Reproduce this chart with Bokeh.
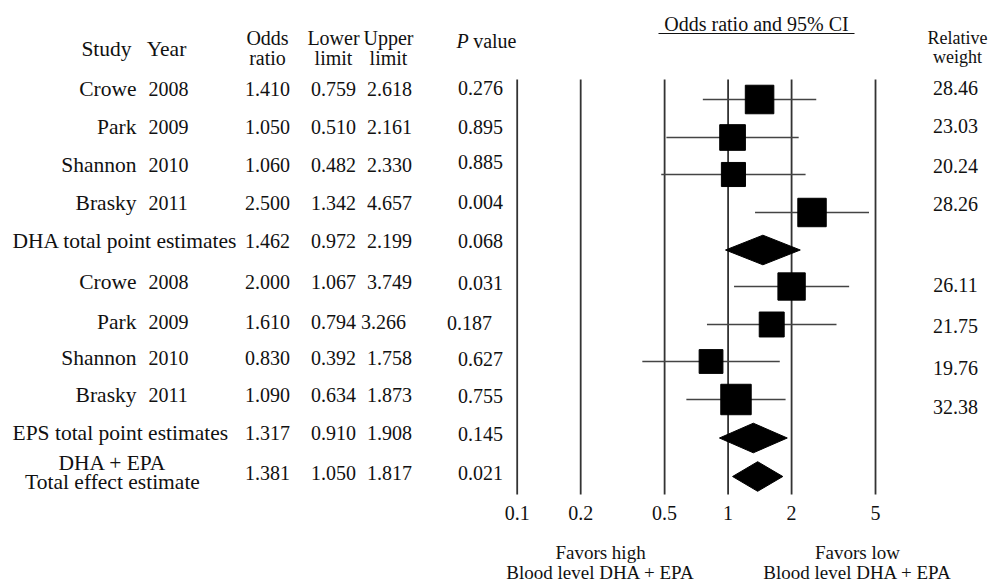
from bokeh.plotting import figure
from bokeh.models import Range1d, LogScale, ColumnDataSource
from bokeh.embed import file_html
from bokeh.resources import INLINE
from bokeh.core.properties import value
import math

# ---------------- data ----------------
studies = ["Crowe", "Park", "Shannon", "Brasky", "DHA total point estimates",
           "Crowe", "Park", "Shannon", "Brasky", "EPS total point estimates",
           "DHA + EPA\nTotal effect estimate"]
years = ["2008", "2009", "2010", "2011", "", "2008", "2009", "2010", "2011", "", ""]
odds = [1.410, 1.050, 1.060, 2.500, 1.462, 2.000, 1.610, 0.830, 1.090, 1.317, 1.381]
lower = [0.759, 0.510, 0.482, 1.342, 0.972, 1.067, 0.794, 0.392, 0.634, 0.910, 1.050]
upper = [2.618, 2.161, 2.330, 4.657, 2.199, 3.749, 3.266, 1.758, 1.873, 1.908, 1.817]
pvals = ["0.276", "0.895", "0.885", "0.004", "0.068", "0.031", "0.187", "0.627", "0.755", "0.145", "0.021"]
weights = [28.46, 23.03, 20.24, 28.26, None, 26.11, 21.75, 19.76, 32.38, None, None]
summary_rows = [4, 9, 10]
ticks = [0.1, 0.2, 0.5, 1, 2, 5]
tick_labels = ["0.1", "0.2", "0.5", "1", "2", "5"]

# ---------------- layout (page pixels) ----------------
W, H = 993, 584
mark_y = [99, 137, 174, 212, 249.5, 286, 324, 361, 399, 437.5, 476]
text_y = [88, 126, 164, 202, 240, 281, 321, 357, 394, 432, 472]
p_y = [87, 126, 161, 201, 240, 282, 322, 358, 395, 433, 472]
w_y = [87, 125, 165, 203, None, 284, 325, 367, 406, None, None]
p_x = [480, 480, 480, 480, 480, 480, 469, 480, 480, 480, 480]
up_x = [389, 389, 389, 389, 389, 389, 383, 389, 389, 389, 389]

PX_PER_DEC = 210.9
X01 = 516.7
lo = -1 - X01 / PX_PER_DEC
hi = -1 + (W - X01) / PX_PER_DEC

p = figure(width=W, height=H, x_range=Range1d(0, W), y_range=Range1d(H, 0),
           output_backend="svg", toolbar_location=None, min_border=0,
           x_axis_location=None, y_axis_location=None)
p.grid.visible = False
p.outline_line_color = None
p.background_fill_color = "white"
p.border_fill_color = "white"
p.extra_x_ranges = {"log": Range1d(10 ** lo, 10 ** hi)}
p.extra_x_scales = {"log": LogScale()}

FONT = value("Liberation Serif")
FS = "20px"
FS_NAME = "21.5px"
TC = "#111111"


def txt(xs, ys, ts, align="center", style="normal", xr="default", size=FS):
    p.text(x=xs, y=ys, text=ts, text_font=FONT, text_font_size=size,
           text_align=align, text_baseline="middle", text_color=TC,
           text_font_style=style, x_range_name=xr)


# ---------------- headers ----------------
txt([106], [48], ["Study"], size=FS_NAME)
txt([166], [48], ["Year"], size=FS_NAME)
txt([267, 333, 388], [37, 37, 37], ["Odds", "Lower", "Upper"])
txt([267, 333, 388], [57, 57, 57], ["ratio", "limit", "limit"])
txt([456], [40], ["P"], align="left", style="italic")
txt([516], [40], ["value"], align="right")
txt([756], [23], ["Odds ratio and 95% CI"])
p.segment(x0=[658], y0=[33], x1=[854], y1=[33], line_color=TC, line_width=1.2)
txt([957, 957], [37, 56], ["Relative", "weight"], size="18px")

# ---------------- table columns ----------------
for i, s in enumerate(studies):
    if i in summary_rows:
        lines = s.split("\n")
        if len(lines) == 1:
            txt([12], [text_y[i]], [s], align="left", size=FS_NAME)
        else:
            txt([112] * len(lines), [462, 481], lines, size=FS_NAME)
    else:
        txt([136], [text_y[i]], [s], align="right", size=FS_NAME)
        txt([148], [text_y[i]], [years[i]], align="left")

txt([267] * len(odds), text_y, ["%.3f" % v for v in odds])
txt([333] * len(lower), text_y, ["%.3f" % v for v in lower])
txt(up_x, text_y, ["%.3f" % v for v in upper])
txt(p_x, p_y, pvals)
wi = [i for i, w in enumerate(weights) if w is not None]
txt([955] * len(wi), [w_y[i] for i in wi], ["%.2f" % weights[i] for i in wi])

# ---------------- forest plot ----------------
p.segment(x0=ticks, y0=[79] * len(ticks), x1=ticks, y1=[494] * len(ticks),
          line_color="#333333", line_width=1.8, x_range_name="log")

study_idx = [i for i in range(len(studies)) if i not in summary_rows]
src = ColumnDataSource(dict(
    lo=[lower[i] for i in study_idx], hi=[upper[i] for i in study_idx],
    x=[odds[i] for i in study_idx], y=[mark_y[i] for i in study_idx],
    side=[5.35 * math.sqrt(weights[i]) for i in study_idx]))
p.segment(x0="lo", y0="y", x1="hi", y1="y", source=src, line_color="#444444",
          line_width=1.7, x_range_name="log")
p.rect(x="x", y="y", width="side", height="side", width_units="screen",
       height_units="screen", source=src, fill_color="black", line_color="black",
       x_range_name="log")

dx, dy = [], []
for i in summary_rows:
    y = mark_y[i]
    dx.append([lower[i], odds[i], upper[i], odds[i]])
    dy.append([y, y - 14.8, y, y + 14.8])
p.patches(xs=dx, ys=dy, fill_color="black", line_color="black", x_range_name="log")

txt(ticks, [512] * len(ticks), tick_labels, xr="log")
txt([600, 600], [552, 572], ["Favors high", "Blood level DHA + EPA"], size="19px")
txt([857, 857], [552, 572], ["Favors low", "Blood level DHA + EPA"], size="19px")

open("out.html", "w").write(file_html(p, INLINE))
